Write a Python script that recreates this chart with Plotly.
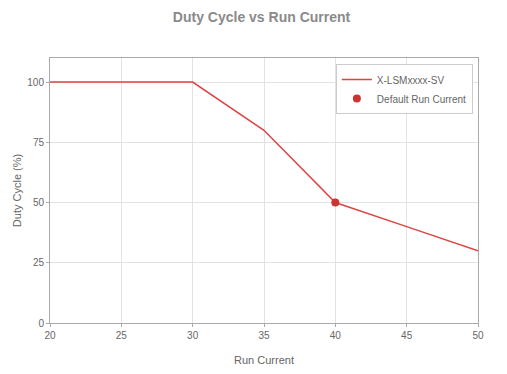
import plotly.graph_objects as go

run_current = [20, 25, 30, 35, 40, 45, 50]
duty_cycle = [100, 100, 100, 80, 50, 40, 30]
default_x = [40]
default_y = [50]
x_ticks = [20, 25, 30, 35, 40, 45, 50]
y_ticks = [0, 25, 50, 75, 100]

fig = go.Figure()
fig.add_trace(go.Scatter(x=run_current, y=duty_cycle, mode="lines", name="X-LSMxxxx-SV",
                         line=dict(color="#dc4444", width=1.5)))
fig.add_trace(go.Scatter(x=default_x, y=default_y, mode="markers", name="Default Run Current",
                         marker=dict(color="#cc3333", size=8)))

axis_common = dict(showline=True, linecolor="#aaaaaa", linewidth=1, mirror=True,
                   gridcolor="#e3e3e3", gridwidth=1, zeroline=False, automargin=False,
                   ticks="outside", ticklen=3, tickcolor="#aaaaaa",
                   tickfont=dict(family="Liberation Sans, Arial", size=10, color="#666666"))

fig.update_layout(
    width=507, height=374,
    margin=dict(l=42, r=37, t=50, b=59),
    paper_bgcolor="white", plot_bgcolor="white",
    title=dict(text="<b>Duty Cycle vs Run Current</b>", x=0.5, xanchor="center", y=0.976, yanchor="middle",
               font=dict(family="Liberation Sans, Arial", size=14, color="#8a8a8a")),
    xaxis=dict(range=[20, 50], tickvals=x_ticks, title=dict(text="Run Current", standoff=16,
               font=dict(family="Liberation Sans, Arial", size=11, color="#666666")), **axis_common),
    yaxis=dict(range=[0, 110], tickvals=y_ticks, title=dict(text="Duty Cycle (%)", standoff=3,
               font=dict(family="Liberation Sans, Arial", size=11, color="#666666")), **axis_common),
    legend=dict(x=0.988, y=0.977, xanchor="right", yanchor="top", bgcolor="white",
                bordercolor="#cccccc", borderwidth=1, tracegroupgap=0,
                font=dict(family="Liberation Sans, Arial", size=10, color="#666666")),
    showlegend=True,
)

fig.write_html("out.html")
